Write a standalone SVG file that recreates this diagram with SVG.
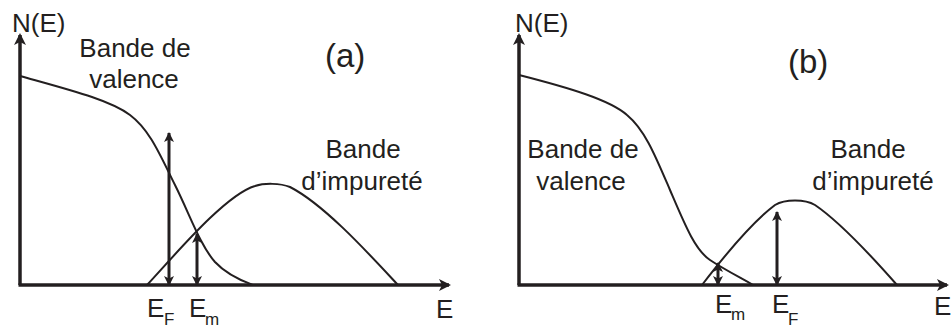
<svg xmlns="http://www.w3.org/2000/svg" width="951" height="329" viewBox="0 0 951 329">
<style>
text{font-family:"Liberation Sans",Arial,sans-serif;fill:#231f20}
.lbl{font-size:26px}
.sub{font-size:17px}
.big{font-size:33px}
.axis{stroke:#231f20;stroke-width:3.5;fill:none}
.curve{stroke:#231f20;stroke-width:2;fill:none}
.arr{stroke:#231f20;stroke-width:3;fill:none}
</style>
<defs>
<marker id="ah" markerUnits="userSpaceOnUse" markerWidth="14" markerHeight="12" refX="10" refY="6" orient="auto-start-reverse">
<path d="M0,0 L12,6 L0,12 L3,6 Z" fill="#231f20"/>
</marker>
<marker id="ahs" markerUnits="userSpaceOnUse" markerWidth="12" markerHeight="10" refX="9" refY="5" orient="auto-start-reverse">
<path d="M0,0 L10,5 L0,10 L2.5,5 Z" fill="#231f20"/>
</marker>
</defs>

<g id="panel-a">
<g id="axes-a">
<path class="axis" d="M20,285 V35" marker-end="url(#ah)"/>
<path class="axis" d="M18.5,285 H449" marker-end="url(#ah)"/>
</g>
<g id="valence-a">
<path class="curve" d="M20,76 C70,90 110,100 130,115 C150,130 160,155 175,185 C190,215 200,245 215,262 C228,276 245,282 253,285"/>
</g>
<g id="impurity-a">
<path class="curve" d="M147,285 C175,255 225,195 255,186 C264,183 280,183 290,187 C325,205 370,255 398,285"/>
</g>
<g id="connectors-a">
<path class="arr" d="M169,285 V133" marker-start="url(#ahs)" marker-end="url(#ahs)"/>
<path class="arr" d="M197,285 V234" marker-start="url(#ahs)" marker-end="url(#ahs)"/>
</g>
<g id="labels-a">
<text class="lbl" x="12" y="32">N(E)</text>
<text class="lbl" x="135" y="57" text-anchor="middle">Bande de</text>
<text class="lbl" x="134" y="88" text-anchor="middle">valence</text>
<text class="big" x="325" y="67">(a)</text>
<text class="lbl" x="363" y="158" text-anchor="middle">Bande</text>
<text class="lbl" x="362" y="190" text-anchor="middle">d’impureté</text>
<text class="lbl" x="147" y="317">E</text><text class="sub" x="164" y="325">F</text>
<text class="lbl" x="189" y="317">E</text><text class="sub" x="205" y="325">m</text>
<text class="lbl" x="436" y="318">E</text>
</g>
</g>

<g id="panel-b">
<g id="axes-b">
<path class="axis" d="M519,285 V35" marker-end="url(#ah)"/>
<path class="axis" d="M517.5,285 H947" marker-end="url(#ah)"/>
</g>
<g id="valence-b">
<path class="curve" d="M519,75 C570,88 610,100 627,115 C645,130 655,155 670,190 C685,225 695,250 710,260 C725,270 745,280 753,285"/>
</g>
<g id="impurity-b">
<path class="curve" d="M702,285 C725,255 755,220 775,205 C785,199 805,199 815,205 C840,222 875,260 897,285"/>
</g>
<g id="connectors-b">
<path class="arr" d="M777,285 V212" marker-start="url(#ahs)" marker-end="url(#ahs)"/>
<path class="arr" d="M718,285 V263" marker-start="url(#ahs)" marker-end="url(#ahs)"/>
</g>
<g id="labels-b">
<text class="lbl" x="515" y="32">N(E)</text>
<text class="big" x="788" y="73">(b)</text>
<text class="lbl" x="583" y="158" text-anchor="middle">Bande de</text>
<text class="lbl" x="581" y="190" text-anchor="middle">valence</text>
<text class="lbl" x="868" y="158" text-anchor="middle">Bande</text>
<text class="lbl" x="873" y="190" text-anchor="middle">d’impureté</text>
<text class="lbl" x="715" y="313">E</text><text class="sub" x="731" y="320">m</text>
<text class="lbl" x="772" y="313">E</text><text class="sub" x="788" y="325">F</text>
<text class="lbl" x="934" y="315">E</text>
</g>
</g>
</svg>
